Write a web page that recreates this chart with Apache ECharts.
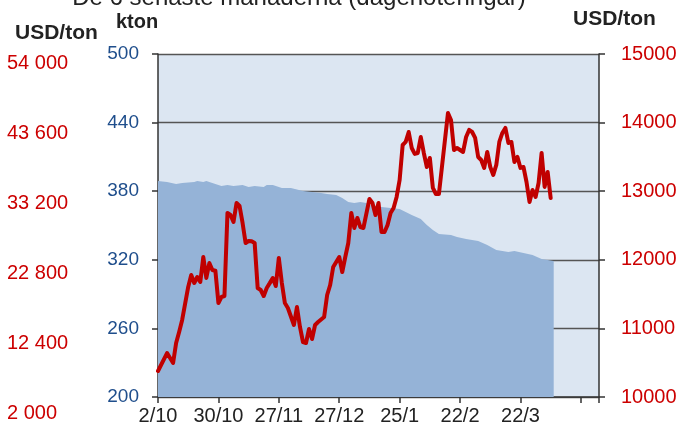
<!DOCTYPE html>
<html>
<head>
<meta charset="utf-8">
<script src="https://cdn.jsdelivr.net/npm/echarts@6/dist/echarts.min.js"></script>
<style>html,body{margin:0;padding:0;background:#fff;}#c{width:695px;height:426px;}</style>
</head>
<body>
<div id="c"></div>
<script>
// x-axis tick labels (one every 20 trading days)
var xTickLabels = ['2/10','30/10','27/11','27/12','25/1','22/2','22/3',''];
var ktonTickLabels = ['200','260','320','380','440','500'];
var usdRightTickLabels = ['10000','11000','12000','13000','14000','15000'];
var usdLeftTickLabels = ['2 000','12 400','22 800','33 200','43 600','54 000'];

// Stock (kton) – trading-day index and value
var stockDay = [0,3,6,8,12,13,15,16,17,21,23,25,28,30,32,35,36,38,41,44,48,51,54,56,59,61,63,65,67,69,70,74,77,80,82,84,87,89,91,93,97,99,102,106,109,112,116,118,121,124,127,131];
var stockKton = [388.9,388.0,386.3,387.2,388.0,388.9,388.0,388.9,388.0,384.6,385.4,384.6,385.4,383.7,384.6,383.7,385.4,385.4,382.8,382.8,380.2,379.3,378.4,377.6,376.7,374.1,370.6,369.7,370.6,369.7,367.9,366.2,365.3,364.4,361.8,359.2,355.7,350.4,346.0,342.6,341.7,340.0,338.2,336.5,332.9,328.6,326.8,327.7,326.0,324.2,320.7,318.9];

// Price (USD/ton) – trading-day index and value
var priceDay = [0,3,5,6,7,8,10,11,12,13,14,15,16,17,18,19,20,21,22,23,24,25,26,27,28,29,30,31,32,33,34,35,36,37,38,39,40,41,42,43,45,46,47,48,49,50,51,52,53,55,56,57,58,60,61,62,63,64,65,66,67,68,70,71,72,73,74,75,76,77,78,79,80,81,82,83,84,85,86,87,88,89,90,91,92,93,94,96,97,98,99,101,102,103,104,105,106,107,108,109,110,111,112,113,114,115,116,117,118,119,120,121,122,123,124,125,126,127,128,129,130];
var priceUsd = [10379,10641,10496,10787,10948,11123,11604,11779,11662,11749,11677,12041,11735,11953,11851,11840,11370,11458,11472,12683,12653,12551,12828,12784,12537,12245,12274,12270,12245,11589,11560,11472,11589,11660,11735,11618,12026,11662,11370,11297,11050,11312,11021,10802,10787,10991,10846,11050,11093,11166,11487,11633,11895,12041,11822,12041,12245,12683,12464,12610,12478,12464,12887,12828,12653,12828,12405,12405,12508,12683,12756,12916,13164,13674,13718,13863,13630,13543,13557,13790,13557,13353,13484,13047,12959,12959,13353,14140,14038,13601,13630,13572,13790,13893,13863,13776,13499,13455,13339,13572,13353,13237,13383,13718,13849,13922,13703,13718,13426,13499,13339,13353,13134,12843,13018,12916,13120,13557,13062,13280,12901];

var FONT = '"Liberation Sans", Arial, sans-serif';
var chart = echarts.init(document.getElementById('c'), null, {renderer: 'canvas'});

var stockData = stockDay.map(function (d, i) { return [d, stockKton[i]]; });
var priceData = priceDay.map(function (d, i) { return [d, priceUsd[i]]; });

chart.setOption({
  animation: false,
  backgroundColor: '#ffffff',
  textStyle: {fontFamily: FONT},
  grid: [
    {left: 158, right: 96, top: 54, bottom: 29, show: true, backgroundColor: '#dce6f2', borderWidth: 0},
    {left: 158, right: 96, top: 63.5, bottom: 13, show: false}
  ],
  graphic: [
    {type: 'text', x: 299, y: -2, style: {text: 'De 6 senaste månaderna (dagenoteringar)', font: '24px ' + FONT, fill: '#222', textAlign: 'center', textVerticalAlign: 'middle'}},
    {type: 'text', x: 116, y: 22, style: {text: 'kton', font: 'bold 20px ' + FONT, fill: '#222', textAlign: 'left', textVerticalAlign: 'middle'}},
    {type: 'text', x: 15, y: 33, style: {text: 'USD/ton', font: 'bold 21px ' + FONT, fill: '#222', textAlign: 'left', textVerticalAlign: 'middle'}},
    {type: 'text', x: 573, y: 19, style: {text: 'USD/ton', font: 'bold 21px ' + FONT, fill: '#222', textAlign: 'left', textVerticalAlign: 'middle'}}
  ],
  xAxis: [
    {
      type: 'value', gridIndex: 0, min: 0, max: 146, interval: 20,
      axisLine: {show: true, lineStyle: {color: '#333', width: 1.5}},
      axisTick: {show: true, length: 6, lineStyle: {color: '#333', width: 1.5}},
      splitLine: {show: false},
      axisLabel: {
        color: '#222', fontSize: 20, fontFamily: FONT, margin: 9,
        formatter: function (v) { return (v % 20 === 0 && xTickLabels[v / 20] !== undefined) ? xTickLabels[v / 20] : ''; }
      }
    },
    {type: 'value', gridIndex: 1, min: 0, max: 146, show: false}
  ],
  yAxis: [
    {
      type: 'value', gridIndex: 0, position: 'left', min: 200, max: 500, interval: 60,
      axisLine: {show: true, lineStyle: {color: '#333', width: 1.5}},
      axisTick: {show: true, length: 6, lineStyle: {color: '#333', width: 1.5}},
      splitLine: {show: true, lineStyle: {color: '#555', width: 1.4}},
      axisLabel: {color: '#1f4e8c', fontSize: 19, fontFamily: FONT, margin: 19,
        formatter: function (v, i) { return ktonTickLabels[i]; }}
    },
    {
      type: 'value', gridIndex: 0, position: 'right', min: 10000, max: 15000, interval: 1000,
      axisLine: {show: true, lineStyle: {color: '#333', width: 1.5}},
      axisTick: {show: true, length: 6, lineStyle: {color: '#333', width: 1.5}},
      splitLine: {show: false},
      axisLabel: {color: '#cc0000', fontSize: 20, fontFamily: FONT, margin: 22,
        formatter: function (v, i) { return usdRightTickLabels[i]; }}
    },
    {
      type: 'value', gridIndex: 1, position: 'left', min: 2000, max: 54000, interval: 10400,
      axisLine: {show: false}, axisTick: {show: false}, splitLine: {show: false},
      axisLabel: {color: '#cc0000', fontSize: 20, fontFamily: FONT, margin: 151, align: 'left',
        formatter: function (v, i) { return usdLeftTickLabels[i]; }}
    }
  ],
  series: [
    {
      type: 'line', name: 'kton', xAxisIndex: 0, yAxisIndex: 0, data: stockData,
      symbol: 'none', smooth: false, z: 2,
      lineStyle: {width: 0, color: '#95b3d7'},
      areaStyle: {color: '#95b3d7', opacity: 1}
    },
    {
      type: 'line', name: 'USD/ton', xAxisIndex: 0, yAxisIndex: 1, data: priceData,
      symbol: 'none', smooth: false, z: 3,
      lineStyle: {width: 4, color: '#c00000', join: 'round', cap: 'round'}
    }
  ]
});
</script>
</body>
</html>
